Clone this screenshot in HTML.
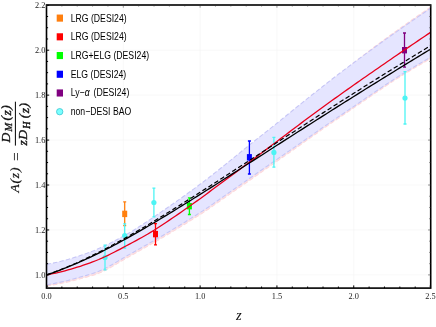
<!DOCTYPE html>
<html><head><meta charset="utf-8"><title>A(z)</title>
<style>html,body{margin:0;padding:0;background:#fff;}body{width:436px;height:327px;overflow:hidden;position:relative;font-family:"Liberation Sans",sans-serif;}</style></head>
<body>
<svg width="436" height="327" viewBox="0 0 436 327" style="position:absolute;left:0;top:0;will-change:transform">
<defs><clipPath id="c"><rect x="46.5" y="5.0" width="384.2" height="283.1"/></clipPath></defs>
<rect width="436" height="327" fill="#fff"/>
<path d="M123.31 5.0 V288.1 M200.12 5.0 V288.1 M276.93 5.0 V288.1 M353.74 5.0 V288.1 M46.5 274.90 H430.7 M46.5 229.96 H430.7 M46.5 185.02 H430.7 M46.5 140.08 H430.7 M46.5 95.14 H430.7 M46.5 50.20 H430.7" stroke="#f3f3f3" stroke-width="0.6" fill="none"/>
<g clip-path="url(#c)">
<path d="M46.50 265.24 L49.57 264.69 L52.64 264.09 L55.72 263.43 L58.79 262.73 L61.86 261.99 L64.93 261.19 L68.01 260.34 L71.08 259.44 L74.15 258.49 L77.22 257.49 L80.30 256.46 L83.37 255.41 L86.44 254.33 L89.51 253.20 L92.59 252.03 L95.66 250.80 L98.73 249.50 L101.80 248.12 L104.88 246.65 L107.95 245.13 L111.02 243.58 L114.09 242.01 L117.17 240.40 L120.24 238.77 L123.31 237.11 L126.38 235.41 L129.45 233.64 L132.53 231.81 L135.60 229.92 L138.67 227.98 L141.74 225.99 L144.82 223.97 L147.89 221.92 L150.96 219.84 L154.03 217.74 L157.11 215.64 L160.18 213.53 L163.25 211.43 L166.32 209.32 L169.40 207.21 L172.47 205.08 L175.54 202.94 L178.61 200.78 L181.69 198.60 L184.76 196.41 L187.83 194.20 L190.90 191.98 L193.98 189.73 L197.05 187.47 L200.12 185.19 L203.19 182.87 L206.26 180.52 L209.34 178.14 L212.41 175.73 L215.48 173.30 L218.55 170.86 L221.63 168.41 L224.70 165.96 L227.77 163.49 L230.84 160.99 L233.92 158.48 L236.99 155.96 L240.06 153.44 L243.13 150.92 L246.21 148.43 L249.28 145.95 L252.35 143.50 L255.42 141.07 L258.50 138.65 L261.57 136.24 L264.64 133.83 L267.71 131.42 L270.79 128.99 L273.86 126.55 L276.93 124.09 L280.00 121.60 L283.07 119.10 L286.15 116.58 L289.22 114.06 L292.29 111.55 L295.36 109.04 L298.44 106.55 L301.51 104.09 L304.58 101.63 L307.65 99.17 L310.73 96.71 L313.80 94.26 L316.87 91.82 L319.94 89.38 L323.02 86.96 L326.09 84.54 L329.16 82.13 L332.23 79.73 L335.31 77.35 L338.38 74.98 L341.45 72.61 L344.52 70.23 L347.60 67.83 L350.67 65.42 L353.74 63.01 L356.81 60.59 L359.88 58.17 L362.96 55.76 L366.03 53.37 L369.10 50.98 L372.17 48.62 L375.25 46.28 L378.32 43.97 L381.39 41.69 L384.46 39.45 L387.54 37.23 L390.61 35.02 L393.68 32.82 L396.75 30.63 L399.83 28.45 L402.90 26.28 L405.97 24.12 L409.04 21.96 L412.12 19.82 L415.19 17.69 L418.26 15.56 L421.33 13.45 L424.41 11.35 L427.48 9.26 L430.55 7.18 L430.55 58.64 L427.48 60.39 L424.41 62.16 L421.33 63.95 L418.26 65.75 L415.19 67.58 L412.12 69.42 L409.04 71.27 L405.97 73.14 L402.90 75.03 L399.83 76.95 L396.75 78.89 L393.68 80.87 L390.61 82.87 L387.54 84.90 L384.46 86.94 L381.39 89.01 L378.32 91.08 L375.25 93.17 L372.17 95.27 L369.10 97.37 L366.03 99.48 L362.96 101.59 L359.88 103.70 L356.81 105.80 L353.74 107.89 L350.67 109.98 L347.60 112.06 L344.52 114.13 L341.45 116.21 L338.38 118.29 L335.31 120.38 L332.23 122.48 L329.16 124.59 L326.09 126.71 L323.02 128.84 L319.94 131.00 L316.87 133.18 L313.80 135.36 L310.73 137.55 L307.65 139.73 L304.58 141.90 L301.51 144.06 L298.44 146.22 L295.36 148.38 L292.29 150.53 L289.22 152.68 L286.15 154.83 L283.07 156.98 L280.00 159.13 L276.93 161.28 L273.86 163.43 L270.79 165.59 L267.71 167.74 L264.64 169.88 L261.57 172.03 L258.50 174.17 L255.42 176.31 L252.35 178.45 L249.28 180.59 L246.21 182.73 L243.13 184.87 L240.06 187.01 L236.99 189.15 L233.92 191.28 L230.84 193.42 L227.77 195.55 L224.70 197.69 L221.63 199.83 L218.55 202.00 L215.48 204.18 L212.41 206.35 L209.34 208.50 L206.26 210.60 L203.19 212.65 L200.12 214.63 L197.05 216.56 L193.98 218.48 L190.90 220.39 L187.83 222.29 L184.76 224.18 L181.69 226.07 L178.61 227.94 L175.54 229.81 L172.47 231.67 L169.40 233.52 L166.32 235.36 L163.25 237.19 L160.18 239.01 L157.11 240.80 L154.03 242.58 L150.96 244.34 L147.89 246.09 L144.82 247.82 L141.74 249.55 L138.67 251.27 L135.60 252.98 L132.53 254.70 L129.45 256.41 L126.38 258.17 L123.31 259.98 L120.24 261.81 L117.17 263.63 L114.09 265.43 L111.02 267.19 L107.95 268.88 L104.88 270.49 L101.80 271.96 L98.73 273.25 L95.66 274.38 L92.59 275.39 L89.51 276.30 L86.44 277.14 L83.37 277.94 L80.30 278.74 L77.22 279.56 L74.15 280.37 L71.08 281.15 L68.01 281.89 L64.93 282.59 L61.86 283.24 L58.79 283.86 L55.72 284.44 L52.64 284.97 L49.57 285.46 L46.50 285.91Z" fill="#fbe3e6" stroke="none"/>
<path d="M46.50 265.24 L49.57 264.69 L52.64 264.09 L55.72 263.43 L58.79 262.73 L61.86 261.99 L64.93 261.19 L68.01 260.34 L71.08 259.44 L74.15 258.49 L77.22 257.49 L80.30 256.46 L83.37 255.41 L86.44 254.33 L89.51 253.20 L92.59 252.03 L95.66 250.80 L98.73 249.50 L101.80 248.12 L104.88 246.65 L107.95 245.13 L111.02 243.58 L114.09 242.01 L117.17 240.40 L120.24 238.77 L123.31 237.11 L126.38 235.41 L129.45 233.64 L132.53 231.81 L135.60 229.92 L138.67 227.98 L141.74 225.99 L144.82 223.97 L147.89 221.92 L150.96 219.84 L154.03 217.74 L157.11 215.64 L160.18 213.53 L163.25 211.43 L166.32 209.32 L169.40 207.21 L172.47 205.08 L175.54 202.94 L178.61 200.78 L181.69 198.60 L184.76 196.41 L187.83 194.20 L190.90 191.98 L193.98 189.73 L197.05 187.47 L200.12 185.19 L203.19 182.87 L206.26 180.52 L209.34 178.14 L212.41 175.73 L215.48 173.30 L218.55 170.86 L221.63 168.41 L224.70 165.96 L227.77 163.49 L230.84 160.99 L233.92 158.48 L236.99 155.96 L240.06 153.44 L243.13 150.92 L246.21 148.43 L249.28 145.95 L252.35 143.50 L255.42 141.07 L258.50 138.65 L261.57 136.24 L264.64 133.83 L267.71 131.42 L270.79 128.99 L273.86 126.55 L276.93 124.09 L280.00 121.60 L283.07 119.10 L286.15 116.58 L289.22 114.06 L292.29 111.55 L295.36 109.04 L298.44 106.55 L301.51 104.09 L304.58 101.63 L307.65 99.17 L310.73 96.71 L313.80 94.26 L316.87 91.82 L319.94 89.38 L323.02 86.96 L326.09 84.54 L329.16 82.13 L332.23 79.73 L335.31 77.35 L338.38 74.98 L341.45 72.61 L344.52 70.23 L347.60 67.83 L350.67 65.42 L353.74 63.01 L356.81 60.59 L359.88 58.17 L362.96 55.76 L366.03 53.37 L369.10 50.98 L372.17 48.62 L375.25 46.28 L378.32 43.97 L381.39 41.69 L384.46 39.45 L387.54 37.23 L390.61 35.02 L393.68 32.82 L396.75 30.63 L399.83 28.45 L402.90 26.28 L405.97 24.12 L409.04 21.96 L412.12 19.82 L415.19 17.69 L418.26 15.56 L421.33 13.45 L424.41 11.35 L427.48 9.26 L430.55 7.18" fill="none" stroke="#fcd8dc" stroke-width="1.1" stroke-dasharray="4.4 2.2"/>
<path d="M46.50 285.91 L49.57 285.46 L52.64 284.97 L55.72 284.44 L58.79 283.86 L61.86 283.24 L64.93 282.59 L68.01 281.89 L71.08 281.15 L74.15 280.37 L77.22 279.56 L80.30 278.74 L83.37 277.94 L86.44 277.14 L89.51 276.30 L92.59 275.39 L95.66 274.38 L98.73 273.25 L101.80 271.96 L104.88 270.49 L107.95 268.88 L111.02 267.19 L114.09 265.43 L117.17 263.63 L120.24 261.81 L123.31 259.98 L126.38 258.17 L129.45 256.41 L132.53 254.70 L135.60 252.98 L138.67 251.27 L141.74 249.55 L144.82 247.82 L147.89 246.09 L150.96 244.34 L154.03 242.58 L157.11 240.80 L160.18 239.01 L163.25 237.19 L166.32 235.36 L169.40 233.52 L172.47 231.67 L175.54 229.81 L178.61 227.94 L181.69 226.07 L184.76 224.18 L187.83 222.29 L190.90 220.39 L193.98 218.48 L197.05 216.56 L200.12 214.63 L203.19 212.65 L206.26 210.60 L209.34 208.50 L212.41 206.35 L215.48 204.18 L218.55 202.00 L221.63 199.83 L224.70 197.69 L227.77 195.55 L230.84 193.42 L233.92 191.28 L236.99 189.15 L240.06 187.01 L243.13 184.87 L246.21 182.73 L249.28 180.59 L252.35 178.45 L255.42 176.31 L258.50 174.17 L261.57 172.03 L264.64 169.88 L267.71 167.74 L270.79 165.59 L273.86 163.43 L276.93 161.28 L280.00 159.13 L283.07 156.98 L286.15 154.83 L289.22 152.68 L292.29 150.53 L295.36 148.38 L298.44 146.22 L301.51 144.06 L304.58 141.90 L307.65 139.73 L310.73 137.55 L313.80 135.36 L316.87 133.18 L319.94 131.00 L323.02 128.84 L326.09 126.71 L329.16 124.59 L332.23 122.48 L335.31 120.38 L338.38 118.29 L341.45 116.21 L344.52 114.13 L347.60 112.06 L350.67 109.98 L353.74 107.89 L356.81 105.80 L359.88 103.70 L362.96 101.59 L366.03 99.48 L369.10 97.37 L372.17 95.27 L375.25 93.17 L378.32 91.08 L381.39 89.01 L384.46 86.94 L387.54 84.90 L390.61 82.87 L393.68 80.87 L396.75 78.89 L399.83 76.95 L402.90 75.03 L405.97 73.14 L409.04 71.27 L412.12 69.42 L415.19 67.58 L418.26 65.75 L421.33 63.95 L424.41 62.16 L427.48 60.39 L430.55 58.64" fill="none" stroke="#fcd8dc" stroke-width="1.1" stroke-dasharray="4.4 2.2"/>
<path d="M46.50 264.34 L49.57 263.79 L52.64 263.19 L55.72 262.54 L58.79 261.84 L61.86 261.09 L64.93 260.29 L68.01 259.44 L71.08 258.54 L74.15 257.59 L77.22 256.59 L80.30 255.56 L83.37 254.51 L86.44 253.43 L89.51 252.31 L92.59 251.14 L95.66 249.90 L98.73 248.60 L101.80 247.22 L104.88 245.75 L107.95 244.23 L111.02 242.68 L114.09 241.11 L117.17 239.51 L120.24 237.87 L123.31 236.21 L126.38 234.51 L129.45 232.74 L132.53 230.91 L135.60 229.02 L138.67 227.08 L141.74 225.09 L144.82 223.07 L147.89 221.02 L150.96 218.94 L154.03 216.85 L157.11 214.74 L160.18 212.63 L163.25 210.53 L166.32 208.43 L169.40 206.31 L172.47 204.18 L175.54 202.04 L178.61 199.88 L181.69 197.71 L184.76 195.52 L187.83 193.31 L190.90 191.08 L193.98 188.84 L197.05 186.57 L200.12 184.29 L203.19 181.98 L206.26 179.63 L209.34 177.25 L212.41 174.84 L215.48 172.41 L218.55 169.98 L221.63 167.53 L224.70 165.08 L227.77 162.61 L230.84 160.11 L233.92 157.60 L236.99 155.08 L240.06 152.57 L243.13 150.06 L246.21 147.56 L249.28 145.09 L252.35 142.65 L255.42 140.22 L258.50 137.81 L261.57 135.40 L264.64 132.99 L267.71 130.58 L270.79 128.17 L273.86 125.73 L276.93 123.27 L280.00 120.79 L283.07 118.29 L286.15 115.78 L289.22 113.27 L292.29 110.76 L295.36 108.26 L298.44 105.78 L301.51 103.31 L304.58 100.86 L307.65 98.41 L310.73 95.96 L313.80 93.52 L316.87 91.08 L319.94 88.66 L323.02 86.24 L326.09 83.83 L329.16 81.43 L332.23 79.04 L335.31 76.67 L338.38 74.31 L341.45 71.96 L344.52 69.64 L347.60 67.33 L350.67 65.02 L353.74 62.73 L356.81 60.45 L359.88 58.18 L362.96 55.92 L366.03 53.67 L369.10 51.43 L372.17 49.19 L375.25 46.97 L378.32 44.75 L381.39 42.54 L384.46 40.35 L387.54 38.15 L390.61 35.97 L393.68 33.79 L396.75 31.63 L399.83 29.46 L402.90 27.31 L405.97 25.17 L409.04 23.03 L412.12 20.90 L415.19 18.78 L418.26 16.67 L421.33 14.57 L424.41 12.47 L427.48 10.38 L430.55 8.31 L430.55 57.29 L427.48 59.04 L424.41 60.81 L421.33 62.60 L418.26 64.40 L415.19 66.23 L412.12 68.06 L409.04 69.92 L405.97 71.78 L402.90 73.67 L399.83 75.58 L396.75 77.53 L393.68 79.50 L390.61 81.50 L387.54 83.52 L384.46 85.56 L381.39 87.62 L378.32 89.69 L375.25 91.78 L372.17 93.87 L369.10 95.97 L366.03 98.07 L362.96 100.18 L359.88 102.28 L356.81 104.37 L353.74 106.46 L350.67 108.54 L347.60 110.61 L344.52 112.68 L341.45 114.76 L338.38 116.83 L335.31 118.91 L332.23 121.00 L329.16 123.10 L326.09 125.20 L323.02 127.32 L319.94 129.46 L316.87 131.62 L313.80 133.78 L310.73 135.94 L307.65 138.10 L304.58 140.24 L301.51 142.38 L298.44 144.51 L295.36 146.64 L292.29 148.76 L289.22 150.89 L286.15 153.01 L283.07 155.14 L280.00 157.26 L276.93 159.39 L273.86 161.52 L270.79 163.65 L267.71 165.78 L264.64 167.91 L261.57 170.04 L258.50 172.17 L255.42 174.31 L252.35 176.44 L249.28 178.57 L246.21 180.71 L243.13 182.85 L240.06 184.99 L236.99 187.12 L233.92 189.26 L230.84 191.40 L227.77 193.53 L224.70 195.66 L221.63 197.81 L218.55 199.98 L215.48 202.16 L212.41 204.33 L209.34 206.47 L206.26 208.58 L203.19 210.63 L200.12 212.60 L197.05 214.53 L193.98 216.45 L190.90 218.37 L187.83 220.27 L184.76 222.16 L181.69 224.05 L178.61 225.92 L175.54 227.79 L172.47 229.65 L169.40 231.50 L166.32 233.34 L163.25 235.17 L160.18 236.98 L157.11 238.78 L154.03 240.56 L150.96 242.32 L147.89 244.06 L144.82 245.80 L141.74 247.52 L138.67 249.24 L135.60 250.96 L132.53 252.67 L129.45 254.39 L126.38 256.15 L123.31 257.96 L120.24 259.79 L117.17 261.62 L114.09 263.43 L111.02 265.20 L107.95 266.91 L104.88 268.54 L101.80 270.04 L98.73 271.36 L95.66 272.52 L92.59 273.56 L89.51 274.51 L86.44 275.39 L83.37 276.24 L80.30 277.08 L77.22 277.94 L74.15 278.80 L71.08 279.62 L68.01 280.41 L64.93 281.16 L61.86 281.87 L58.79 282.53 L55.72 283.16 L52.64 283.75 L49.57 284.29 L46.50 284.79Z" fill="#e5e5ff" stroke="none"/>
<path d="M46.50 264.34 L49.57 263.79 L52.64 263.19 L55.72 262.54 L58.79 261.84 L61.86 261.09 L64.93 260.29 L68.01 259.44 L71.08 258.54 L74.15 257.59 L77.22 256.59 L80.30 255.56 L83.37 254.51 L86.44 253.43 L89.51 252.31 L92.59 251.14 L95.66 249.90 L98.73 248.60 L101.80 247.22 L104.88 245.75 L107.95 244.23 L111.02 242.68 L114.09 241.11 L117.17 239.51 L120.24 237.87 L123.31 236.21 L126.38 234.51 L129.45 232.74 L132.53 230.91 L135.60 229.02 L138.67 227.08 L141.74 225.09 L144.82 223.07 L147.89 221.02 L150.96 218.94 L154.03 216.85 L157.11 214.74 L160.18 212.63 L163.25 210.53 L166.32 208.43 L169.40 206.31 L172.47 204.18 L175.54 202.04 L178.61 199.88 L181.69 197.71 L184.76 195.52 L187.83 193.31 L190.90 191.08 L193.98 188.84 L197.05 186.57 L200.12 184.29 L203.19 181.98 L206.26 179.63 L209.34 177.25 L212.41 174.84 L215.48 172.41 L218.55 169.98 L221.63 167.53 L224.70 165.08 L227.77 162.61 L230.84 160.11 L233.92 157.60 L236.99 155.08 L240.06 152.57 L243.13 150.06 L246.21 147.56 L249.28 145.09 L252.35 142.65 L255.42 140.22 L258.50 137.81 L261.57 135.40 L264.64 132.99 L267.71 130.58 L270.79 128.17 L273.86 125.73 L276.93 123.27 L280.00 120.79 L283.07 118.29 L286.15 115.78 L289.22 113.27 L292.29 110.76 L295.36 108.26 L298.44 105.78 L301.51 103.31 L304.58 100.86 L307.65 98.41 L310.73 95.96 L313.80 93.52 L316.87 91.08 L319.94 88.66 L323.02 86.24 L326.09 83.83 L329.16 81.43 L332.23 79.04 L335.31 76.67 L338.38 74.31 L341.45 71.96 L344.52 69.64 L347.60 67.33 L350.67 65.02 L353.74 62.73 L356.81 60.45 L359.88 58.18 L362.96 55.92 L366.03 53.67 L369.10 51.43 L372.17 49.19 L375.25 46.97 L378.32 44.75 L381.39 42.54 L384.46 40.35 L387.54 38.15 L390.61 35.97 L393.68 33.79 L396.75 31.63 L399.83 29.46 L402.90 27.31 L405.97 25.17 L409.04 23.03 L412.12 20.90 L415.19 18.78 L418.26 16.67 L421.33 14.57 L424.41 12.47 L427.48 10.38 L430.55 8.31" fill="none" stroke="#c6c6f6" stroke-width="1.1" stroke-dasharray="4.4 2.2"/>
<path d="M46.50 284.79 L49.57 284.29 L52.64 283.75 L55.72 283.16 L58.79 282.53 L61.86 281.87 L64.93 281.16 L68.01 280.41 L71.08 279.62 L74.15 278.80 L77.22 277.94 L80.30 277.08 L83.37 276.24 L86.44 275.39 L89.51 274.51 L92.59 273.56 L95.66 272.52 L98.73 271.36 L101.80 270.04 L104.88 268.54 L107.95 266.91 L111.02 265.20 L114.09 263.43 L117.17 261.62 L120.24 259.79 L123.31 257.96 L126.38 256.15 L129.45 254.39 L132.53 252.67 L135.60 250.96 L138.67 249.24 L141.74 247.52 L144.82 245.80 L147.89 244.06 L150.96 242.32 L154.03 240.56 L157.11 238.78 L160.18 236.98 L163.25 235.17 L166.32 233.34 L169.40 231.50 L172.47 229.65 L175.54 227.79 L178.61 225.92 L181.69 224.05 L184.76 222.16 L187.83 220.27 L190.90 218.37 L193.98 216.45 L197.05 214.53 L200.12 212.60 L203.19 210.63 L206.26 208.58 L209.34 206.47 L212.41 204.33 L215.48 202.16 L218.55 199.98 L221.63 197.81 L224.70 195.66 L227.77 193.53 L230.84 191.40 L233.92 189.26 L236.99 187.12 L240.06 184.99 L243.13 182.85 L246.21 180.71 L249.28 178.57 L252.35 176.44 L255.42 174.31 L258.50 172.17 L261.57 170.04 L264.64 167.91 L267.71 165.78 L270.79 163.65 L273.86 161.52 L276.93 159.39 L280.00 157.26 L283.07 155.14 L286.15 153.01 L289.22 150.89 L292.29 148.76 L295.36 146.64 L298.44 144.51 L301.51 142.38 L304.58 140.24 L307.65 138.10 L310.73 135.94 L313.80 133.78 L316.87 131.62 L319.94 129.46 L323.02 127.32 L326.09 125.20 L329.16 123.10 L332.23 121.00 L335.31 118.91 L338.38 116.83 L341.45 114.76 L344.52 112.68 L347.60 110.61 L350.67 108.54 L353.74 106.46 L356.81 104.37 L359.88 102.28 L362.96 100.18 L366.03 98.07 L369.10 95.97 L372.17 93.87 L375.25 91.78 L378.32 89.69 L381.39 87.62 L384.46 85.56 L387.54 83.52 L390.61 81.50 L393.68 79.50 L396.75 77.53 L399.83 75.58 L402.90 73.67 L405.97 71.78 L409.04 69.92 L412.12 68.06 L415.19 66.23 L418.26 64.40 L421.33 62.60 L424.41 60.81 L427.48 59.04 L430.55 57.29" fill="none" stroke="#c6c6f6" stroke-width="1.1" stroke-dasharray="4.4 2.2"/>
</g>
<path d="M124.70 201.90 V225.60 M123.20 201.90 h3 M123.20 225.60 h3" stroke="#ff7f0e" stroke-width="1.3" fill="none"/>
<rect x="122.20" y="210.70" width="5" height="6.4" fill="#ff7f0e"/>
<path d="M155.50 223.70 V244.90 M154.00 223.70 h3 M154.00 244.90 h3" stroke="#ff0000" stroke-width="1.3" fill="none"/>
<rect x="153.00" y="230.90" width="5" height="6.4" fill="#ff0000"/>
<path d="M189.40 197.80 V214.50 M187.90 197.80 h3 M187.90 214.50 h3" stroke="#00ff00" stroke-width="1.3" fill="none"/>
<rect x="186.90" y="203.00" width="5" height="6.4" fill="#00ff00"/>
<path d="M249.40 141.00 V174.00 M247.90 141.00 h3 M247.90 174.00 h3" stroke="#0000ff" stroke-width="1.3" fill="none"/>
<rect x="246.90" y="154.10" width="5" height="6.4" fill="#0000ff"/>
<path d="M404.50 33.00 V67.20 M403.00 33.00 h3 M403.00 67.20 h3" stroke="#800080" stroke-width="1.3" fill="none"/>
<rect x="402.00" y="47.00" width="5" height="6.4" fill="#800080"/>
<path d="M105.00 245.10 V269.90 M103.50 245.10 h3 M103.50 269.90 h3" stroke="#4df4f4" stroke-width="1.3" fill="none"/>
<circle cx="105.00" cy="257.50" r="2.6" fill="#4df4f4"/>
<path d="M124.70 223.80 V248.20 M123.20 223.80 h3 M123.20 248.20 h3" stroke="#4df4f4" stroke-width="1.3" fill="none"/>
<circle cx="124.70" cy="235.60" r="2.6" fill="#4df4f4"/>
<path d="M153.90 188.20 V216.80 M152.40 188.20 h3 M152.40 216.80 h3" stroke="#4df4f4" stroke-width="1.3" fill="none"/>
<circle cx="153.90" cy="202.50" r="2.6" fill="#4df4f4"/>
<path d="M273.90 137.30 V167.20 M272.40 137.30 h3 M272.40 167.20 h3" stroke="#4df4f4" stroke-width="1.3" fill="none"/>
<circle cx="273.90" cy="152.40" r="2.6" fill="#4df4f4"/>
<path d="M405.00 71.70 V124.00 M403.50 71.70 h3 M403.50 124.00 h3" stroke="#4df4f4" stroke-width="1.3" fill="none"/>
<circle cx="405.00" cy="98.10" r="2.6" fill="#4df4f4"/>
<g clip-path="url(#c)">
<path d="M46.50 274.90 L49.57 274.32 L52.64 273.69 L55.72 273.02 L58.79 272.31 L61.86 271.56 L64.93 270.76 L68.01 269.94 L71.08 269.08 L74.15 268.18 L77.22 267.24 L80.30 266.26 L83.37 265.22 L86.44 264.14 L89.51 263.05 L92.59 261.92 L95.66 260.75 L98.73 259.51 L101.80 258.19 L104.88 256.77 L107.95 255.29 L111.02 253.77 L114.09 252.22 L117.17 250.64 L120.24 249.05 L123.31 247.43 L126.38 245.80 L129.45 244.16 L132.53 242.51 L135.60 240.84 L138.67 239.16 L141.74 237.45 L144.82 235.71 L147.89 233.95 L150.96 232.15 L154.03 230.26 L157.11 228.28 L160.18 226.26 L163.25 224.21 L166.32 222.17 L169.40 220.12 L172.47 218.05 L175.54 215.96 L178.61 213.85 L181.69 211.73 L184.76 209.59 L187.83 207.43 L190.90 205.26 L193.98 203.08 L197.05 200.88 L200.12 198.67 L203.19 196.44 L206.26 194.16 L209.34 191.86 L212.41 189.55 L215.48 187.24 L218.55 184.94 L221.63 182.67 L224.70 180.41 L227.77 178.16 L230.84 175.91 L233.92 173.66 L236.99 171.40 L240.06 169.14 L243.13 166.85 L246.21 164.55 L249.28 162.25 L252.35 159.93 L255.42 157.61 L258.50 155.30 L261.57 152.99 L264.64 150.68 L267.71 148.37 L270.79 146.05 L273.86 143.74 L276.93 141.43 L280.00 139.10 L283.07 136.78 L286.15 134.45 L289.22 132.13 L292.29 129.81 L295.36 127.49 L298.44 125.18 L301.51 122.88 L304.58 120.60 L307.65 118.32 L310.73 116.05 L313.80 113.78 L316.87 111.52 L319.94 109.27 L323.02 107.03 L326.09 104.79 L329.16 102.56 L332.23 100.34 L335.31 98.12 L338.38 95.92 L341.45 93.72 L344.52 91.54 L347.60 89.36 L350.67 87.19 L353.74 85.02 L356.81 82.87 L359.88 80.71 L362.96 78.57 L366.03 76.43 L369.10 74.29 L372.17 72.16 L375.25 70.03 L378.32 67.91 L381.39 65.78 L384.46 63.66 L387.54 61.55 L390.61 59.43 L393.68 57.33 L396.75 55.22 L399.83 53.12 L402.90 51.02 L405.97 48.93 L409.04 46.84 L412.12 44.76 L415.19 42.68 L418.26 40.61 L421.33 38.54 L424.41 36.47 L427.48 34.41 L430.55 32.35" fill="none" stroke="#e8001c" stroke-width="1.3"/>
<path d="M46.50 274.90 L49.57 273.87 L52.64 272.81 L55.72 271.71 L58.79 270.58 L61.86 269.41 L64.93 268.21 L68.01 266.98 L71.08 265.72 L74.15 264.43 L77.22 263.11 L80.30 261.76 L83.37 260.38 L86.44 258.97 L89.51 257.54 L92.59 256.08 L95.66 254.60 L98.73 253.09 L101.80 251.56 L104.88 250.01 L107.95 248.43 L111.02 246.84 L114.09 245.22 L117.17 243.59 L120.24 241.93 L123.31 240.26 L126.38 238.57 L129.45 236.86 L132.53 235.14 L135.60 233.40 L138.67 231.65 L141.74 229.89 L144.82 228.11 L147.89 226.31 L150.96 224.51 L154.03 222.69 L157.11 220.87 L160.18 219.03 L163.25 217.18 L166.32 215.33 L169.40 213.46 L172.47 211.59 L175.54 209.70 L178.61 207.81 L181.69 205.92 L184.76 204.01 L187.83 202.10 L190.90 200.18 L193.98 198.26 L197.05 196.34 L200.12 194.40 L203.19 192.47 L206.26 190.53 L209.34 188.58 L212.41 186.63 L215.48 184.68 L218.55 182.73 L221.63 180.77 L224.70 178.81 L227.77 176.85 L230.84 174.88 L233.92 172.92 L236.99 170.95 L240.06 168.98 L243.13 167.01 L246.21 165.04 L249.28 163.07 L252.35 161.10 L255.42 159.12 L258.50 157.15 L261.57 155.18 L264.64 153.20 L267.71 151.23 L270.79 149.26 L273.86 147.29 L276.93 145.31 L280.00 143.34 L283.07 141.37 L286.15 139.40 L289.22 137.44 L292.29 135.47 L295.36 133.50 L298.44 131.54 L301.51 129.58 L304.58 127.62 L307.65 125.66 L310.73 123.70 L313.80 121.74 L316.87 119.79 L319.94 117.84 L323.02 115.89 L326.09 113.94 L329.16 111.99 L332.23 110.05 L335.31 108.10 L338.38 106.17 L341.45 104.23 L344.52 102.29 L347.60 100.36 L350.67 98.43 L353.74 96.50 L356.81 94.58 L359.88 92.66 L362.96 90.74 L366.03 88.82 L369.10 86.90 L372.17 84.99 L375.25 83.08 L378.32 81.18 L381.39 79.27 L384.46 77.37 L387.54 75.47 L390.61 73.58 L393.68 71.68 L396.75 69.80 L399.83 67.91 L402.90 66.02 L405.97 64.14 L409.04 62.27 L412.12 60.39 L415.19 58.52 L418.26 56.65 L421.33 54.78 L424.41 52.92 L427.48 51.06 L430.55 49.20" fill="none" stroke="#000" stroke-width="1.3"/>
<path d="M46.50 274.90 L49.57 273.83 L52.64 272.72 L55.72 271.57 L58.79 270.40 L61.86 269.18 L64.93 267.94 L68.01 266.66 L71.08 265.35 L74.15 264.01 L77.22 262.64 L80.30 261.25 L83.37 259.82 L86.44 258.37 L89.51 256.89 L92.59 255.38 L95.66 253.85 L98.73 252.30 L101.80 250.72 L104.88 249.12 L107.95 247.50 L111.02 245.86 L114.09 244.20 L117.17 242.52 L120.24 240.82 L123.31 239.10 L126.38 237.37 L129.45 235.62 L132.53 233.85 L135.60 232.07 L138.67 230.28 L141.74 228.47 L144.82 226.65 L147.89 224.82 L150.96 222.98 L154.03 221.12 L157.11 219.26 L160.18 217.38 L163.25 215.50 L166.32 213.60 L169.40 211.70 L172.47 209.79 L175.54 207.87 L178.61 205.95 L181.69 204.02 L184.76 202.08 L187.83 200.13 L190.90 198.19 L193.98 196.23 L197.05 194.27 L200.12 192.31 L203.19 190.34 L206.26 188.37 L209.34 186.40 L212.41 184.42 L215.48 182.44 L218.55 180.46 L221.63 178.47 L224.70 176.48 L227.77 174.49 L230.84 172.50 L233.92 170.51 L236.99 168.52 L240.06 166.52 L243.13 164.53 L246.21 162.53 L249.28 160.54 L252.35 158.54 L255.42 156.54 L258.50 154.55 L261.57 152.55 L264.64 150.56 L267.71 148.56 L270.79 146.57 L273.86 144.57 L276.93 142.58 L280.00 140.59 L283.07 138.60 L286.15 136.61 L289.22 134.62 L292.29 132.63 L295.36 130.65 L298.44 128.67 L301.51 126.68 L304.58 124.70 L307.65 122.73 L310.73 120.75 L313.80 118.78 L316.87 116.80 L319.94 114.83 L323.02 112.87 L326.09 110.90 L329.16 108.94 L332.23 106.98 L335.31 105.02 L338.38 103.06 L341.45 101.11 L344.52 99.16 L347.60 97.21 L350.67 95.26 L353.74 93.32 L356.81 91.38 L359.88 89.44 L362.96 87.51 L366.03 85.58 L369.10 83.65 L372.17 81.72 L375.25 79.80 L378.32 77.88 L381.39 75.96 L384.46 74.05 L387.54 72.13 L390.61 70.23 L393.68 68.32 L396.75 66.42 L399.83 64.52 L402.90 62.62 L405.97 60.73 L409.04 58.84 L412.12 56.95 L415.19 55.06 L418.26 53.18 L421.33 51.30 L424.41 49.43 L427.48 47.56 L430.55 45.69" fill="none" stroke="#000" stroke-width="1.2" stroke-dasharray="4.6 2.5"/>
</g>
<rect x="46.50" y="5.00" width="384.20" height="283.10" fill="none" stroke="#000" stroke-width="1.6"/>
<path d="M46.50 288.10 v-2.70 M61.86 288.10 v-1.60 M77.22 288.10 v-1.60 M92.59 288.10 v-1.60 M107.95 288.10 v-1.60 M123.31 288.10 v-2.70 M138.67 288.10 v-1.60 M154.03 288.10 v-1.60 M169.40 288.10 v-1.60 M184.76 288.10 v-1.60 M200.12 288.10 v-2.70 M215.48 288.10 v-1.60 M230.84 288.10 v-1.60 M246.21 288.10 v-1.60 M261.57 288.10 v-1.60 M276.93 288.10 v-2.70 M292.29 288.10 v-1.60 M307.65 288.10 v-1.60 M323.02 288.10 v-1.60 M338.38 288.10 v-1.60 M353.74 288.10 v-2.70 M369.10 288.10 v-1.60 M384.46 288.10 v-1.60 M399.83 288.10 v-1.60 M415.19 288.10 v-1.60 M430.55 288.10 v-2.70 M46.50 286.13 h1.60 M46.50 274.90 h2.70 M46.50 263.66 h1.60 M46.50 252.43 h1.60 M46.50 241.19 h1.60 M46.50 229.96 h2.70 M46.50 218.72 h1.60 M46.50 207.49 h1.60 M46.50 196.25 h1.60 M46.50 185.02 h2.70 M46.50 173.78 h1.60 M46.50 162.55 h1.60 M46.50 151.31 h1.60 M46.50 140.08 h2.70 M46.50 128.84 h1.60 M46.50 117.61 h1.60 M46.50 106.38 h1.60 M46.50 95.14 h2.70 M46.50 83.90 h1.60 M46.50 72.67 h1.60 M46.50 61.44 h1.60 M46.50 50.20 h2.70 M46.50 38.97 h1.60 M46.50 27.73 h1.60 M46.50 16.49 h1.60 M46.50 5.26 h2.70" stroke="#000" stroke-width="1" fill="none"/>
<path d="M46.50 5.00 v2.70 M61.86 5.00 v1.60 M77.22 5.00 v1.60 M92.59 5.00 v1.60 M107.95 5.00 v1.60 M123.31 5.00 v2.70 M138.67 5.00 v1.60 M154.03 5.00 v1.60 M169.40 5.00 v1.60 M184.76 5.00 v1.60 M200.12 5.00 v2.70 M215.48 5.00 v1.60 M230.84 5.00 v1.60 M246.21 5.00 v1.60 M261.57 5.00 v1.60 M276.93 5.00 v2.70 M292.29 5.00 v1.60 M307.65 5.00 v1.60 M323.02 5.00 v1.60 M338.38 5.00 v1.60 M353.74 5.00 v2.70 M369.10 5.00 v1.60 M384.46 5.00 v1.60 M399.83 5.00 v1.60 M415.19 5.00 v1.60 M430.55 5.00 v2.70 M430.70 286.13 h-1.60 M430.70 274.90 h-2.70 M430.70 263.66 h-1.60 M430.70 252.43 h-1.60 M430.70 241.19 h-1.60 M430.70 229.96 h-2.70 M430.70 218.72 h-1.60 M430.70 207.49 h-1.60 M430.70 196.25 h-1.60 M430.70 185.02 h-2.70 M430.70 173.78 h-1.60 M430.70 162.55 h-1.60 M430.70 151.31 h-1.60 M430.70 140.08 h-2.70 M430.70 128.84 h-1.60 M430.70 117.61 h-1.60 M430.70 106.38 h-1.60 M430.70 95.14 h-2.70 M430.70 83.90 h-1.60 M430.70 72.67 h-1.60 M430.70 61.44 h-1.60 M430.70 50.20 h-2.70 M430.70 38.97 h-1.60 M430.70 27.73 h-1.60 M430.70 16.49 h-1.60 M430.70 5.26 h-2.70" stroke="#333" stroke-width="0.5" fill="none"/>
<g font-family="Liberation Serif, serif" font-size="8.3" fill="#222">
<text x="46.50" y="299.2" text-anchor="middle">0.0</text>
<text x="123.31" y="299.2" text-anchor="middle">0.5</text>
<text x="200.12" y="299.2" text-anchor="middle">1.0</text>
<text x="276.93" y="299.2" text-anchor="middle">1.5</text>
<text x="353.74" y="299.2" text-anchor="middle">2.0</text>
<text x="430.55" y="299.2" text-anchor="middle">2.5</text>
<text x="45.3" y="277.80" text-anchor="end">1.0</text>
<text x="45.3" y="232.86" text-anchor="end">1.2</text>
<text x="45.3" y="187.92" text-anchor="end">1.4</text>
<text x="45.3" y="142.98" text-anchor="end">1.6</text>
<text x="45.3" y="98.04" text-anchor="end">1.8</text>
<text x="45.3" y="53.10" text-anchor="end">2.0</text>
<text x="45.3" y="8.16" text-anchor="end">2.2</text>
</g>
<text x="238.8" y="320.3" font-family="Liberation Serif, serif" font-style="italic" font-size="14.5" text-anchor="middle" fill="#111">z</text>
<g font-family="Liberation Serif, serif" font-style="italic" fill="#111" stroke="#111" stroke-width="0.35">
<text transform="translate(19.2,192.6) rotate(-90)" font-size="13.5" letter-spacing="0.85" stroke-width="0.2">A(z)</text>
<text transform="translate(20.6,162.0) rotate(-90)" font-size="15.5" stroke-width="0.1">=</text>
<text transform="translate(9.6,142.4) rotate(-90)" font-size="13.5"><tspan x="0" y="0">D</tspan><tspan x="11.0" y="2.8" font-size="10.4">M</tspan><tspan x="21.8" y="0.4">(</tspan><tspan dx="0.5" y="1.6">z</tspan><tspan dx="0.5" y="0.4">)</tspan></text>
<text transform="translate(27.2,145.6) rotate(-90)" font-size="13.5"><tspan x="0" y="0">z</tspan><tspan x="5.9" y="0">D</tspan><tspan x="16.9" y="2.9" font-size="10">H</tspan><tspan x="27.3" y="0.4">(</tspan><tspan dx="0.5" y="1.4">z</tspan><tspan dx="0.5" y="0.4">)</tspan></text>
<path d="M15.4 101.7 V145.6" stroke="#000" stroke-width="1"/>
</g>
<g font-family="Liberation Sans, sans-serif" font-size="10.4" fill="#000">
<rect x="56.7" y="14.55" width="6.3" height="7.1" fill="#ff7f0e"/>
<text transform="translate(70.7,21.60) scale(0.835,1)">LRG (DESI24)</text>
<rect x="56.7" y="33.27" width="6.3" height="7.1" fill="#ff0000"/>
<text transform="translate(70.7,40.32) scale(0.835,1)">LRG (DESI24)</text>
<rect x="56.7" y="51.99" width="6.3" height="7.1" fill="#00ff00"/>
<text transform="translate(70.7,59.04) scale(0.835,1)">LRG+ELG (DESI24)</text>
<rect x="56.7" y="70.71" width="6.3" height="7.1" fill="#0000ff"/>
<text transform="translate(70.7,77.76) scale(0.835,1)">ELG (DESI24)</text>
<rect x="56.7" y="89.43" width="6.3" height="7.1" fill="#800080"/>
<text transform="translate(70.7,96.48) scale(0.835,1)">Ly−<tspan font-style="italic" dx="0.3">α</tspan><tspan dx="1.6"> (DESI24)</tspan></text>
<circle cx="59.7" cy="111.70" r="3.2" fill="#7affff" stroke="#30c0cc" stroke-width="0.7"/>
<text transform="translate(70.7,115.20) scale(0.835,1)">non−DESI BAO</text>
</g>
</svg>
</body></html>
